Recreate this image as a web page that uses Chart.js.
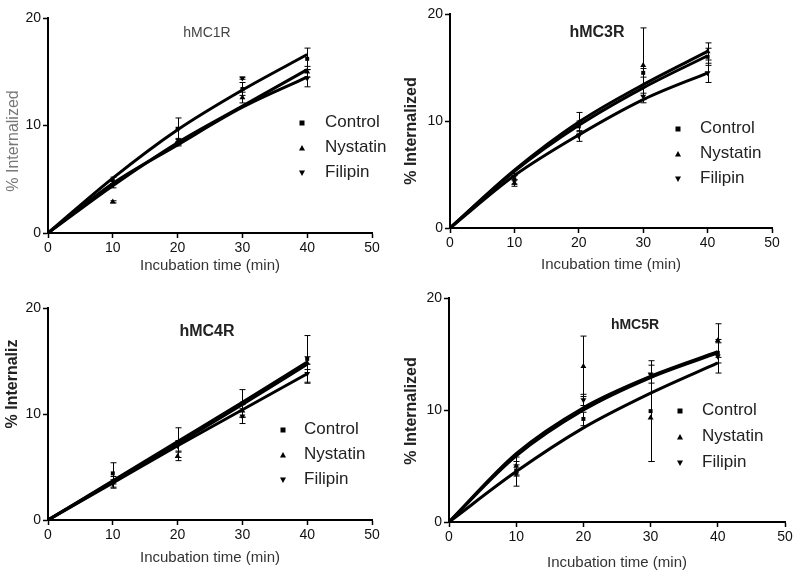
<!DOCTYPE html>
<html>
<head>
<meta charset="utf-8">
<script src="https://cdn.jsdelivr.net/npm/chart.js@4"></script>
<style>
  html, body { margin:0; padding:0; background:#fff; }
  .panel { position:absolute; }
</style>
</head>
<body>
<div class="panel" style="left:0;top:0;width:400px;height:285px"><canvas id="c1"></canvas></div>
<div class="panel" style="left:400px;top:0;width:400px;height:285px"><canvas id="c2"></canvas></div>
<div class="panel" style="left:0;top:285px;width:400px;height:294px"><canvas id="c3"></canvas></div>
<div class="panel" style="left:400px;top:285px;width:400px;height:294px"><canvas id="c4"></canvas></div>
<script>
// ═══════════════════════════════════════════════════════
//  Internalization time course — hMC1R / 3R / 4R / 5R
// ═══════════════════════════════════════════════════════

const TIMES     = [10, 20, 30, 40];        // measured points (min)
const FIT_TIMES = [0, 10, 20, 30, 40];     // fitted curve read at these times
const SERIES    = ["Control", "Nystatin", "Filipin"];
const RECEPTORS = ["hMC1R", "hMC3R", "hMC4R", "hMC5R"];
const X_TICKS   = [0, 10, 20, 30, 40, 50];
const Y_TICKS   = [0, 10, 20];

// rows = Control, Nystatin, Filipin
const mc1rMean = [[4.9, 9.7, 13.4, 16.2], [2.9, 8.5, 12.6, 15.0], [4.5, 8.3, 14.4, 14.4]];
const mc1rSem  = [[0.3, 1.0, 0.6, 1.0],   [0.1, 0.3, 0.5, 0.5],   [0.3, 0.2, 0.1, 0.8]];
const mc1rFit  = [[0, 5.1, 9.6, 13.3, 16.6], [0, 4.4, 8.4, 11.8, 15.2], [0, 4.6, 8.2, 11.7, 14.5]];

const mc3rMean = [[4.5, 9.5, 14.5, 16.0], [4.2, 9.8, 15.2, 16.5], [4.8, 8.6, 12.3, 14.5]];
const mc3rSem  = [[0.4, 0.5, 0.4, 0.8],   [0.3, 1.0, 3.5, 0.8],   [0.3, 0.5, 0.3, 0.9]];
const mc3rFit  = [[0, 5.3, 9.6, 13.1, 16.1], [0, 5.4, 9.9, 13.4, 16.5], [0, 4.9, 8.7, 12.0, 14.5]];

const mc4rMean = [[4.4, 7.3, 11.0, 15.2], [3.6, 6.0, 10.3, 14.8], [3.4, 7.0, 9.8, 13.8]];
const mc4rSem  = [[1.0, 1.4, 1.3, 2.2],   [0.5, 0.4, 0.6, 0.6],   [0.4, 0.5, 0.7, 0.9]];
const mc4rFit  = [[0, 3.7, 7.4, 11.1, 14.9], [0, 3.6, 7.2, 10.9, 14.7], [0, 3.5, 7.0, 10.4, 13.8]];

const mc5rMean = [[4.6, 9.2, 9.9, 15.1], [5.0, 13.9, 9.3, 16.2], [4.3, 10.9, 13.2, 14.8]];
const mc5rSem  = [[0.5, 0.6, 4.5, 0.9],   [0.8, 2.7, 3.9, 1.5],   [1.1, 0.5, 0.8, 1.5]];
const mc5rFit  = [[0, 4.5, 8.4, 11.5, 14.2], [0, 6.1, 10.2, 13.0, 15.2], [0, 5.9, 10.0, 12.9, 15.1]];

// ── Layout / style per panel ─────────────────────────
const FONT = "'Liberation Sans', Arial, sans-serif";
const MARKERS = ["rect", "up", "down"];

const PANELS = [
  { id:"c1", name:RECEPTORS[0], mean:mc1rMean, sem:mc1rSem, fit:mc1rFit,
    axisW:48, top:18, right:28, xH:52, xPad:10,
    yTitle:"% Internalized", yAt:[14,141], yBold:false, yColor:"#777",
    tAt:[207,33], tBold:false, tSize:14, tColor:"#444", leg:[302,325,122,25] },
  { id:"c2", name:RECEPTORS[1], mean:mc3rMean, sem:mc3rSem, fit:mc3rFit,
    axisW:50, top:14, right:28, xH:57, xPad:11,
    yTitle:"% Internalized", yAt:[12,131], yBold:true, yColor:"#222",
    tAt:[197,33], tBold:true, tSize:16, tColor:"#222", leg:[278,300,128,25] },
  { id:"c3", name:RECEPTORS[2], mean:mc4rMean, sem:mc4rSem, fit:mc4rFit,
    axisW:48, top:23, right:28, xH:59, xPad:12,
    yTitle:"% Internaliz", yAt:[13,99], yBold:true, yColor:"#222",
    tAt:[207,47], tBold:true, tSize:16, tColor:"#222", leg:[283,304,144,25] },
  { id:"c4", name:RECEPTORS[3], mean:mc5rMean, sem:mc5rSem, fit:mc5rFit,
    axisW:49, top:13, right:15, xH:57, xPad:7,
    yTitle:"% Internalized", yAt:[12,126], yBold:true, yColor:"#222",
    tAt:[235,40], tBold:true, tSize:14, tColor:"#222", leg:[280,302,125,26] },
];

function drawMarker(ctx, style, x, y, r) {
  ctx.beginPath();
  if (style === "rect") ctx.rect(x - r, y - r, 2 * r, 2 * r);
  else if (style === "up") { ctx.moveTo(x, y - r); ctx.lineTo(x + r, y + r * 0.8); ctx.lineTo(x - r, y + r * 0.8); }
  else { ctx.moveTo(x, y + r); ctx.lineTo(x + r, y - r * 0.8); ctx.lineTo(x - r, y - r * 0.8); }
  ctx.closePath();
  ctx.fill();
}

// error bars, panel title, y title and legend
const panelDecor = {
  id: "panelDecor",
  afterDatasetsDraw(chart) {
    const ctx = chart.ctx, xs = chart.scales.x, ys = chart.scales.y;
    ctx.save();
    ctx.strokeStyle = "#000";
    ctx.lineWidth = 1;
    chart.data.datasets.forEach(ds => {
      if (!ds.errors) return;
      ds.data.forEach((p, i) => {
        const e = ds.errors[i];
        const x = Math.round(xs.getPixelForValue(p.x)) + 0.5;
        const y1 = ys.getPixelForValue(p.y + e), y2 = ys.getPixelForValue(p.y - e);
        ctx.beginPath();
        ctx.moveTo(x, y1); ctx.lineTo(x, y2);
        ctx.moveTo(x - 3, y1); ctx.lineTo(x + 3, y1);
        ctx.moveTo(x - 3, y2); ctx.lineTo(x + 3, y2);
        ctx.stroke();
      });
    });
    ctx.restore();
  },
  afterDraw(chart, args, o) {
    const P = o.panel, ctx = chart.ctx;
    ctx.save();
    ctx.textBaseline = "middle";
    // title
    ctx.textAlign = "center";
    ctx.fillStyle = P.tColor;
    ctx.font = (P.tBold ? "bold " : "") + P.tSize + "px " + FONT;
    ctx.fillText(P.name, P.tAt[0], P.tAt[1]);
    // y title
    ctx.save();
    ctx.translate(P.yAt[0], P.yAt[1]);
    ctx.rotate(-Math.PI / 2);
    ctx.fillStyle = P.yColor;
    ctx.font = (P.yBold ? "bold " : "") + "16px " + FONT;
    ctx.fillText(P.yTitle, 0, 0);
    ctx.restore();
    // legend
    const [mx, tx, y0, dy] = P.leg;
    ctx.textAlign = "left";
    ctx.font = "17px " + FONT;
    SERIES.forEach((s, i) => {
      const y = y0 + i * dy;
      ctx.fillStyle = "#000";
      drawMarker(ctx, MARKERS[i], mx, y + 1, MARKERS[i] === "rect" ? 2.5 : 3);
      ctx.fillStyle = "#222";
      ctx.fillText(s, tx, y);
    });
    ctx.restore();
  }
};

function axis(P, isX) {
  return {
    type: "linear",
    min: 0, max: isX ? 50 : 20,
    afterBuildTicks: s => { s.ticks = (isX ? X_TICKS : Y_TICKS).map(v => ({ value: v })); },
    afterFit: s => { if (isX) s.height = P.xH; else s.width = P.axisW; },
    ticks: { color: "#111", font: { family: FONT, size: 14 }, padding: 2, maxRotation: 0 },
    grid: { display: true, drawOnChartArea: false, drawTicks: true, tickLength: 5,
            tickWidth: 1.5, color: "#000" },
    border: { display: true, color: "#000", width: 2 },
    title: isX
      ? { display: true, text: "Incubation time (min)", color: "#333",
          font: { family: FONT, size: 15 }, padding: { top: 0, bottom: P.xPad } }
      : { display: false }
  };
}

function makePanel(P) {
  const datasets = [];
  SERIES.forEach((s, i) => {
    datasets.push({
      label: s + " fit",
      data: FIT_TIMES.map((t, k) => ({ x: t, y: P.fit[i][k] })),
      showLine: true, borderColor: "#000", borderWidth: 3,
      pointRadius: 0, cubicInterpolationMode: "monotone", order: 2
    });
  });
  SERIES.forEach((s, i) => {
    datasets.push({
      label: s,
      data: TIMES.map((t, k) => ({ x: t, y: P.mean[i][k] })),
      errors: P.sem[i],
      showLine: false, backgroundColor: "#000", borderWidth: 0,
      pointStyle: MARKERS[i] === "rect" ? "rect" : "triangle",
      rotation: MARKERS[i] === "down" ? 180 : 0,
      pointRadius: MARKERS[i] === "rect" ? 2.8 : 3.4, order: 1
    });
  });
  new Chart(document.getElementById(P.id), {
    type: "scatter",
    data: { datasets },
    options: {
      responsive: true, maintainAspectRatio: false, animation: false,
      layout: { padding: { left: 0, top: P.top, right: P.right, bottom: 0 } },
      scales: { x: axis(P, true), y: axis(P, false) },
      plugins: { legend: { display: false }, tooltip: { enabled: false },
                 panelDecor: { panel: P } }
    },
    plugins: [panelDecor]
  });
}

PANELS.forEach(makePanel);
</script>
</body>
</html>
